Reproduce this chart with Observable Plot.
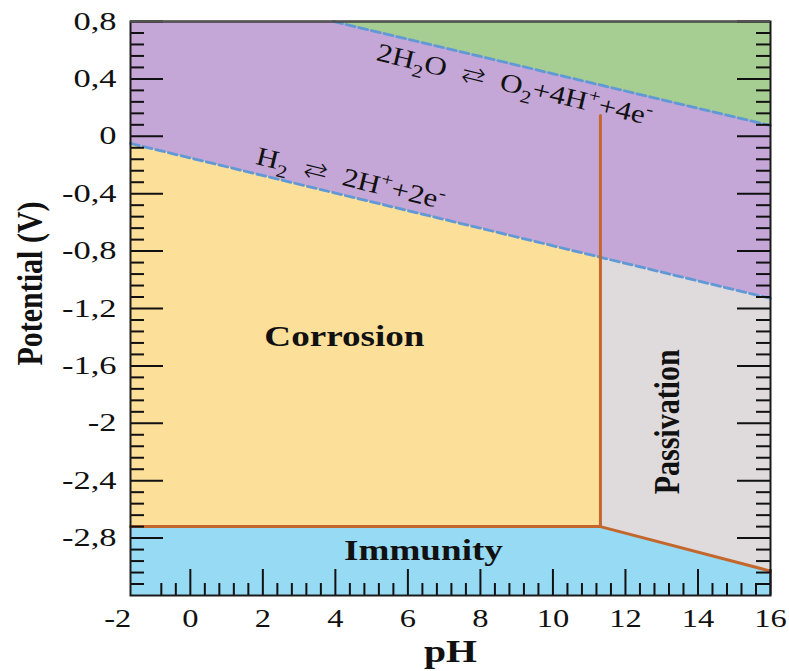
<!DOCTYPE html>
<html>
<head>
<meta charset="utf-8">
<script src="https://cdn.jsdelivr.net/npm/d3@7"></script>
<script src="https://cdn.jsdelivr.net/npm/@observablehq/plot@0.6"></script>
<style>
  html, body { margin: 0; padding: 0; background: #fff; }
</style>
</head>
<body>
<div id="chart"></div>
<script>
// Potential–pH (Pourbaix) diagram: corrosion, immunity and passivation domains

// visible window of the diagram
const phRange = [-1.65, 16];
const potentialRange = [-3.2, 0.8];

// H2 / H+ equilibrium (lower water line)
const hydrogenPh = [-1.65, 11.31, 16];
const hydrogenE = [-0.05, -0.843, -1.13];

// O2 / H2O equilibrium (upper water line)
const oxygenPh = [3.95, 16];
const oxygenE = [0.8, 0.075];

// immunity boundary (metal / ion and metal / oxide)
const immunityPh = [-1.65, 11.31, 16];
const immunityE = [-2.72, -2.72, -3.03];

// corrosion / passivation boundary
const passivationPh = [11.31, 11.31];
const passivationE = [-2.72, 0.145];

// tick labels
const xTicks = [-2, 0, 2, 4, 6, 8, 10, 12, 14, 16];
const yTicks = [-2.8, -2.4, -2, -1.6, -1.2, -0.8, -0.4, 0, 0.4, 0.8];

// domain names and where they sit
const regionNames = ["Corrosion", "Immunity", "Passivation"];
const regionPh = [4.25, 6.43, 13.16];
const regionE = [-1.40, -2.885, -1.99];

// reaction labels along the water lines
const reactionNames = ["2H₂O ⇄ O₂+4H⁺+4e⁻", "H₂ ⇄ 2H⁺+2e⁻"];
const reactionPh = [8.94, 4.42];
const reactionE = [0.36, -0.294];

const W = 789, H = 671;
const margin = {top: 21, right: 19, bottom: 76, left: 130};
const innerW = W - margin.left - margin.right;
const innerH = H - margin.top - margin.bottom;

const colors = {
  water: "#C4A6D7",
  oxygen: "#A7CE92",
  corrosion: "#FCDF98",
  immunity: "#97DAF4",
  passivation: "#DFDBDC",
  boundary: "#C4672D",
  waterLine: "#6198D6",
  ink: "#111"
};

const fmt = d => String(d).replace(".", ",");

// minor ticks: every 0.08 V and every 0.4 pH unit
const yMinor = d3.range(-39, 10).filter(i => i % 5 !== 0).map(i => +(i * 0.08).toFixed(2));
const xMinor = d3.range(-2, 40).filter(i => i % 5 !== 0).map(i => +(i * 0.4).toFixed(1));
const xMajor = xTicks.filter(t => t > phRange[0]);

const svg = Plot.plot({
  width: W,
  height: H,
  marginTop: margin.top,
  marginRight: margin.right,
  marginBottom: margin.bottom,
  marginLeft: margin.left,
  style: {fontFamily: "'Liberation Serif', serif", background: "#fff", color: colors.ink},
  x: {domain: phRange},
  y: {domain: potentialRange},
  marks: [
    // water stability domain fills the background
    Plot.frame({fill: colors.water, stroke: null}),
    // O2 evolution domain
    Plot.areaY([0, 1], {x: i => oxygenPh[i], y1: i => oxygenE[i], y2: potentialRange[1], fill: colors.oxygen}),
    // corrosion domain
    Plot.areaY([0, 1], {x: i => hydrogenPh[i], y1: i => immunityE[i], y2: i => hydrogenE[i], fill: colors.corrosion}),
    // passivation domain
    Plot.areaY([1, 2], {x: i => hydrogenPh[i], y1: i => immunityE[i], y2: i => hydrogenE[i], fill: colors.passivation}),
    // immunity domain
    Plot.areaY([0, 1, 2], {x: i => immunityPh[i], y1: potentialRange[0], y2: i => immunityE[i], fill: colors.immunity}),

    // water lines
    Plot.line([0, 1, 2], {x: i => hydrogenPh[i], y: i => hydrogenE[i], stroke: colors.waterLine, strokeWidth: 2.8, strokeDasharray: "9,4"}),
    Plot.line([0, 1], {x: i => oxygenPh[i], y: i => oxygenE[i], stroke: colors.waterLine, strokeWidth: 2.8, strokeDasharray: "9,4"}),

    // domain boundaries
    Plot.line([0, 1, 2], {x: i => immunityPh[i], y: i => immunityE[i], stroke: colors.boundary, strokeWidth: 3}),
    Plot.line([0, 1], {x: i => passivationPh[i], y: i => passivationE[i], stroke: colors.boundary, strokeWidth: 3}),

    // inward ticks, left and right sides
    Plot.ruleY(yTicks, {insetRight: innerW - 33, stroke: colors.ink, strokeWidth: 2}),
    Plot.ruleY(yMinor, {insetRight: innerW - 14, stroke: colors.ink, strokeWidth: 2}),
    Plot.ruleY(yTicks, {insetLeft: innerW - 33, stroke: colors.ink, strokeWidth: 2}),
    Plot.ruleY(yMinor, {insetLeft: innerW - 14, stroke: colors.ink, strokeWidth: 2}),
    // inward ticks along the bottom
    Plot.ruleX(xMajor, {insetTop: innerH - 26, stroke: colors.ink, strokeWidth: 2}),
    Plot.ruleX(xMinor, {insetTop: innerH - 12, stroke: colors.ink, strokeWidth: 2}),

    // tick labels
    Plot.axisY(yTicks, {anchor: "left", tickSize: 0, tickPadding: 14, fontSize: 25, tickFormat: fmt, label: null}),
    Plot.axisX(xTicks, {anchor: "bottom", tickSize: 0, tickPadding: 13, fontSize: 26, tickFormat: fmt, label: null}),

    // axis titles
    Plot.text(["pH"], {text: d => d, frameAnchor: "bottom", dy: 57, fontSize: 31, fontWeight: "bold", lineAnchor: "middle", ariaDescription: "axis title"}),
    Plot.text(["Potential (V)"], {text: d => d, frameAnchor: "left", dx: -100, dy: 57, rotate: -90, fontSize: 30, fontWeight: "bold", lineAnchor: "middle", ariaDescription: "axis title vertical"}),

    // domain names
    Plot.text([0, 1], {x: i => regionPh[i], y: i => regionE[i], text: i => regionNames[i], fontSize: 29, fontWeight: "bold", lineAnchor: "middle", ariaDescription: "region name"}),
    Plot.text([2], {x: i => regionPh[i], y: i => regionE[i], text: i => regionNames[i], rotate: -90, fontSize: 30, fontWeight: "bold", lineAnchor: "middle", ariaDescription: "region name vertical"}),

    // reactions along the water lines
    Plot.text([0], {x: i => reactionPh[i], y: i => reactionE[i], text: i => reactionNames[i], rotate: 13.4, fontSize: 26, lineAnchor: "middle", ariaDescription: "reaction"}),
    Plot.text([1], {x: i => reactionPh[i], y: i => reactionE[i], text: i => reactionNames[i], rotate: 13.6, fontSize: 26, lineAnchor: "middle", ariaDescription: "reaction"}),

    // frame
    Plot.frame({stroke: "#1a1a1a", strokeWidth: 2}),
    Plot.ruleY([potentialRange[1]], {stroke: "#555", strokeWidth: 2})
  ]
});

// Serif glyphs are drawn a little wide
function stretch(selector, sx, sy) {
  svg.querySelectorAll(selector).forEach(t => {
    const tr = t.getAttribute("transform") || "";
    t.setAttribute("transform", `${tr} scale(${sx},${sy})`);
  });
}
stretch('g[aria-label="y-axis tick label"] text', 1.38, 1);
stretch('g[aria-label="x-axis tick label"] text', 1.25, 1);
stretch('g[aria-description="axis title"] text', 1.28, 1);
stretch('g[aria-description="axis title vertical"] text', 1, 1.2);
stretch('g[aria-description="region name"] text', 1.28, 1);
stretch('g[aria-description="region name vertical"] text', 1, 1.2);
stretch('g[aria-description="reaction"] text', 1.2, 1);

// Chemical formulas: subscripts and charges as shifted tspans
const NS = "http://www.w3.org/2000/svg";
svg.querySelectorAll('g[aria-description="reaction"] text').forEach(t => {
  const s = t.textContent;
  t.textContent = "";
  let offset = 0;
  for (const ch of s) {
    const ts = document.createElementNS(NS, "tspan");
    let shift = 0, small = false;
    if (ch === "₂") { ts.textContent = "2"; shift = 7; small = true; }
    else if (ch === "⁺") { ts.textContent = "+"; shift = -10; small = true; }
    else if (ch === "⁻") { ts.textContent = "-"; shift = -10; small = true; }
    else if (ch === " ") { ts.textContent = "\u2002"; }
    else if (ch === "⇄") {
      ts.textContent = ch;
      ts.setAttribute("font-family", "'DejaVu Sans'");
      ts.setAttribute("font-weight", "200");
      ts.setAttribute("font-size", "24");
    }
    else { ts.textContent = ch; }
    if (small) ts.setAttribute("font-size", "18");
    const dy = shift - offset;
    if (dy !== 0) ts.setAttribute("dy", dy);
    offset = shift;
    t.appendChild(ts);
  }
});

document.getElementById("chart").appendChild(svg);
</script>
</body>
</html>
